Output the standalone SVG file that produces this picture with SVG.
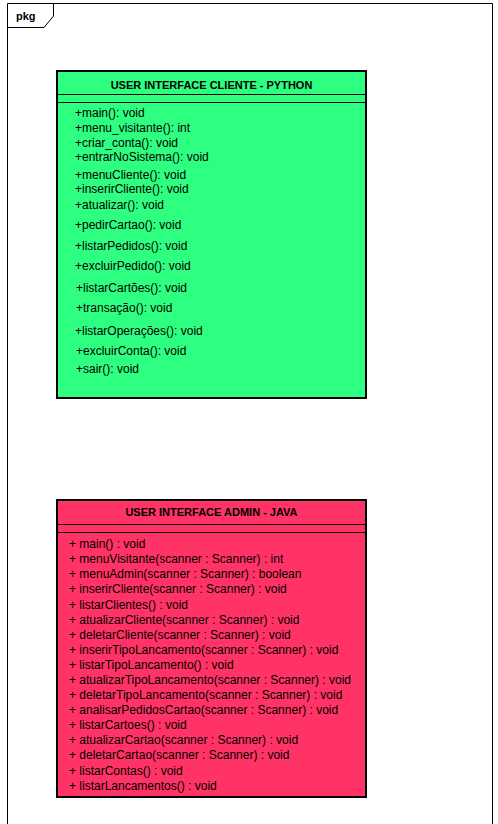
<svg xmlns="http://www.w3.org/2000/svg" width="498" height="824" viewBox="0 0 498 824">
<style>
.frame{fill:none;stroke:#000;stroke-width:1}
.box{stroke:#000;stroke-width:2}
.sep{stroke:#000;stroke-width:1}
.t{font-family:"Liberation Sans",Arial,sans-serif;font-size:12px;fill:#000}
.b{font-family:"Liberation Sans",Arial,sans-serif;font-size:11px;font-weight:bold;fill:#000}
</style>
<rect width="498" height="824" fill="#fff"/>
<g id="package">
<path class="frame" d="M7.5,3.5 H492.5 V830 M7.5,3.5 V830"/>
<path class="frame" d="M7.5,27.5 H44 L53.5,16 V3.5"/>
<text class="b" x="16" y="20">pkg</text>
</g>
<g id="cliente">
<rect class="box" x="57" y="71" width="309" height="327" fill="#2EFF80"/>
<line class="sep" x1="57" y1="94.5" x2="366" y2="94.5"/>
<line class="sep" x1="57" y1="102.5" x2="366" y2="102.5"/>
<text class="b" x="211.5" y="89" text-anchor="middle">USER INTERFACE CLIENTE - PYTHON</text>
<text class="t" x="75" y="117">+main(): void</text>
<text class="t" x="75" y="131.5">+menu_visitante(): int</text>
<text class="t" x="75" y="147">+criar_conta(): void</text>
<text class="t" x="75" y="160.5">+entrarNoSistema(): void</text>
<text class="t" x="75" y="179">+menuCliente(): void</text>
<text class="t" x="75" y="193">+inserirCliente(): void</text>
<text class="t" x="75" y="209">+atualizar(): void</text>
<text class="t" x="75" y="229">+pedirCartao(): void</text>
<text class="t" x="75" y="249.5">+listarPedidos(): void</text>
<text class="t" x="75" y="270">+excluirPedido(): void</text>
<text class="t" x="76" y="291.5">+listarCartões(): void</text>
<text class="t" x="76" y="312">+transação(): void</text>
<text class="t" x="75" y="334.5">+listarOperações(): void</text>
<text class="t" x="76" y="355">+excluirConta(): void</text>
<text class="t" x="76" y="373">+sair(): void</text>
</g>
<g id="admin">
<rect class="box" x="57" y="500" width="309" height="297" fill="#FF3366"/>
<line class="sep" x1="57" y1="524.5" x2="366" y2="524.5"/>
<line class="sep" x1="57" y1="532.5" x2="366" y2="532.5"/>
<text class="b" x="211.5" y="516" text-anchor="middle">USER INTERFACE ADMIN - JAVA</text>
<text class="t" x="69" y="548">+ main() : void</text>
<text class="t" x="69" y="563">+ menuVisitante(scanner : Scanner) : int</text>
<text class="t" x="69" y="578">+ menuAdmin(scanner : Scanner) : boolean</text>
<text class="t" x="69" y="593">+ inserirCliente(scanner : Scanner) : void</text>
<text class="t" x="69" y="608.5">+ listarClientes() : void</text>
<text class="t" x="69" y="624">+ atualizarCliente(scanner : Scanner) : void</text>
<text class="t" x="69" y="638.5">+ deletarCliente(scanner : Scanner) : void</text>
<text class="t" x="69" y="654">+ inserirTipoLancamento(scanner : Scanner) : void</text>
<text class="t" x="69" y="669">+ listarTipoLancamento() : void</text>
<text class="t" x="69" y="684">+ atualizarTipoLancamento(scanner : Scanner) : void</text>
<text class="t" x="69" y="699">+ deletarTipoLancamento(scanner : Scanner) : void</text>
<text class="t" x="69" y="714">+ analisarPedidosCartao(scanner : Scanner) : void</text>
<text class="t" x="69" y="729">+ listarCartoes() : void</text>
<text class="t" x="69" y="744">+ atualizarCartao(scanner : Scanner) : void</text>
<text class="t" x="69" y="759">+ deletarCartao(scanner : Scanner) : void</text>
<text class="t" x="69" y="774.5">+ listarContas() : void</text>
<text class="t" x="69" y="789.5">+ listarLancamentos() : void</text>
</g>
<g id="connectors"></g>
</svg>
